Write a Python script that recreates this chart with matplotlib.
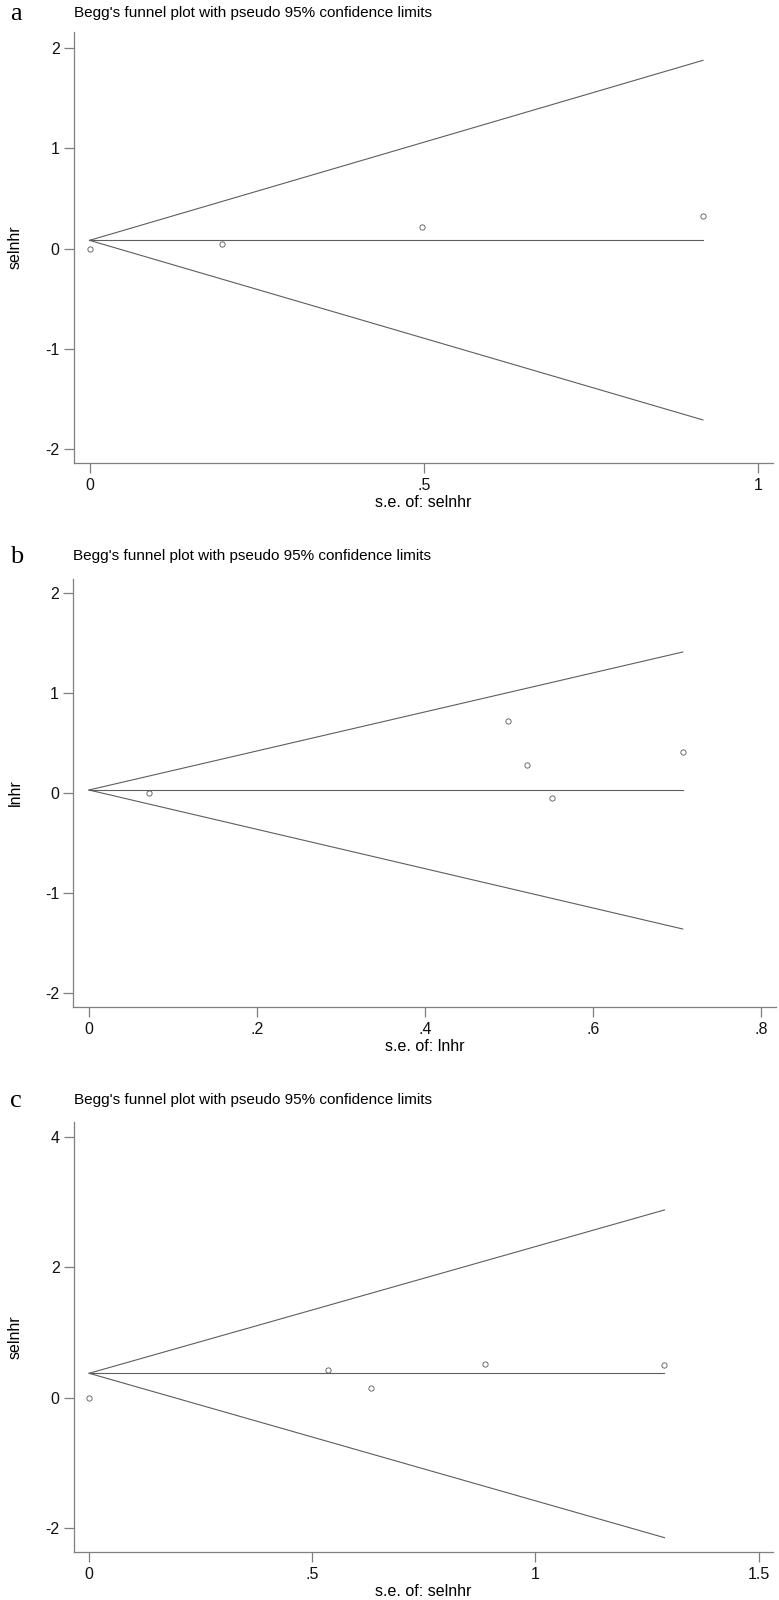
import matplotlib
matplotlib.use("Agg")
import matplotlib.pyplot as plt

plt.rcParams.update({
    "font.family": "Liberation Sans",
    "font.size": 11.5,
    "axes.unicode_minus": False,
    "axes.linewidth": 0.9,
    "axes.edgecolor": "#7f7f7f",
    "xtick.color": "#7f7f7f", "ytick.color": "#7f7f7f",
    "xtick.labelcolor": "#111111", "ytick.labelcolor": "#111111",
    "xtick.major.size": 7, "ytick.major.size": 7,
    "xtick.major.width": 0.9, "ytick.major.width": 0.9,
})

TITLE = "Begg's funnel plot with pseudo 95% confidence limits"

# panel a
a_se = [0.0, 0.198, 0.497, 0.917]
a_val = [0.0, 0.05, 0.22, 0.325]
a_pooled = 0.083
a_se_max = 0.917
a_upper = 1.88
a_lower = -1.71
a_xticks = [0, 0.5, 1]
a_xticklabels = ["0", ".5", "1"]
a_yticks = [-2, -1, 0, 1, 2]

# panel b
b_se = [0.071, 0.4995, 0.522, 0.551, 0.707]
b_val = [0.0, 0.72, 0.283, -0.05, 0.41]
b_pooled = 0.03
b_se_max = 0.707
b_upper = 1.41
b_lower = -1.36
b_xticks = [0, 0.2, 0.4, 0.6, 0.8]
b_xticklabels = ["0", ".2", ".4", ".6", ".8"]
b_yticks = [-2, -1, 0, 1, 2]

# panel c
c_se = [0.0, 0.535, 0.632, 0.886, 1.289]
c_val = [0.0, 0.43, 0.15, 0.51, 0.495]
c_pooled = 0.373
c_se_max = 1.289
c_upper = 2.88
c_lower = -2.15
c_xticks = [0, 0.5, 1, 1.5]
c_xticklabels = ["0", ".5", "1", "1.5"]
c_yticks = [-2, 0, 2, 4]

W, H = 779, 1600
LINE = "#5e5e5e"

# letter, ylabel, xlabel, data..., (left, top, right, bottom px), xlim, ylim, title y
PANELS = [
    ("a", "selnhr", "s.e. of: selnhr", a_se, a_val, a_pooled, a_se_max, a_upper, a_lower,
     a_xticks, a_xticklabels, a_yticks, (73.5, 32, 772.5, 463), (-0.024, 1.021), (-2.14, 2.163), 13),
    ("b", "lnhr", "s.e. of: lnhr", b_se, b_val, b_pooled, b_se_max, b_upper, b_lower,
     b_xticks, b_xticklabels, b_yticks, (73, 579, 776, 1007), (-0.019, 0.818), (-2.14, 2.14), 556),
    ("c", "selnhr", "s.e. of: selnhr", c_se, c_val, c_pooled, c_se_max, c_upper, c_lower,
     c_xticks, c_xticklabels, c_yticks, (73.5, 1122, 772.5, 1552), (-0.035, 1.531), (-2.37, 4.23), 1100),
]

fig = plt.figure(figsize=(W / 100, H / 100), dpi=100)

for (letter, ylab, xlab, se, val, pooled, se_max, up, lo,
     xt, xtl, yt, box, xlim, ylim, ty) in PANELS:
    l, t, r, b = box
    ax = fig.add_axes([l / W, 1 - b / H, (r - l) / W, (b - t) / H])
    ax.plot([0, se_max], [pooled, up], color=LINE, lw=0.8)
    ax.plot([0, se_max], [pooled, lo], color=LINE, lw=0.8)
    ax.plot([0, se_max], [pooled, pooled], color=LINE, lw=0.8)
    ax.plot(se, val, linestyle="none", marker="o", markersize=3.8,
            markerfacecolor="none", markeredgecolor="#555555", markeredgewidth=0.6)
    ax.set_xlim(*xlim)
    ax.set_ylim(*ylim)
    ax.set_xticks(xt)
    ax.set_xticklabels(xtl)
    ax.set_yticks(yt)
    ax.tick_params(axis="x", pad=4)
    ax.tick_params(axis="y", pad=3)
    for side in ("top", "right"):
        ax.spines[side].set_visible(False)
    ax.set_xlabel(xlab, labelpad=1)
    ax.set_ylabel(ylab)
    ax.yaxis.set_label_coords(-(l - 23) / (r - l), 0.5)
    fig.text(l / W, 1 - ty / H, TITLE, ha="left", va="center", fontsize=11)
    fig.text(10 / W, 1 - (ty + 1) / H, letter, ha="left", va="center",
             fontsize=19, family="Liberation Serif")

fig.savefig("out.png", dpi=100)
